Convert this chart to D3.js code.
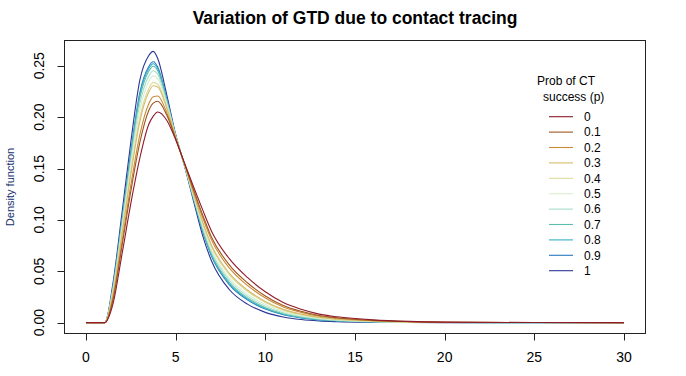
<!DOCTYPE html>
<html>
<head>
<meta charset="utf-8">
<script src="https://cdnjs.cloudflare.com/ajax/libs/d3/7.8.5/d3.min.js"></script>
<style>
body { margin: 0; background: #fff; }
svg { display: block; font-family: "Liberation Sans", Arial, Helvetica, sans-serif; }
</style>
</head>
<body>
<div class="chart"></div>
<script>
// generation time (days) grid
var gtd_x = [0, 1.05, 1.5, 2, 2.5, 3, 3.5, 3.75, 4, 4.5, 5, 5.5, 6, 6.5, 7, 8, 9, 10, 11, 12, 13, 14, 16, 18, 20, 25, 30];

var ct_prob = ["0", "0.1", "0.2", "0.3", "0.4", "0.5", "0.6", "0.7", "0.8", "0.9", "1"];

var dens_p00 = [0, 0, 0.018, 0.066, 0.116, 0.160, 0.193, 0.201, 0.205, 0.197, 0.178, 0.155, 0.132, 0.110, 0.089, 0.062, 0.044, 0.030, 0.0195, 0.013, 0.0083, 0.0057, 0.0027, 0.0012, 0.0005, 0.0001, 0];
var dens_p01 = [0, 0, 0.022, 0.074, 0.128, 0.1752, 0.2064, 0.2136, 0.2154, 0.202, 0.179, 0.1544, 0.1292, 0.105, 0.0832, 0.056, 0.0388, 0.026, 0.0167, 0.011, 0.0070, 0.0047, 0.0022, 0.0010, 0.0004, 0.0001, 0];
var dens_p02 = [0, 0, 0.024, 0.078, 0.134, 0.1828, 0.2131, 0.2199, 0.2206, 0.2045, 0.1795, 0.1541, 0.1278, 0.1025, 0.0803, 0.053, 0.0362, 0.024, 0.0153, 0.010, 0.0063, 0.0043, 0.0020, 0.0009, 0.0004, 0.0001, 0];
var dens_p03 = [0, 0, 0.0274, 0.0848, 0.1442, 0.1957, 0.2245, 0.2306, 0.2294, 0.2088, 0.1804, 0.1536, 0.1254, 0.0983, 0.0754, 0.0479, 0.0318, 0.0206, 0.0129, 0.0083, 0.0052, 0.0034, 0.0016, 0.0007, 0.0003, 0.0001, 0];
var dens_p04 = [0, 0, 0.0284, 0.0868, 0.1472, 0.1995, 0.2278, 0.2338, 0.2320, 0.2100, 0.1806, 0.1534, 0.1247, 0.097, 0.0739, 0.0464, 0.0305, 0.0196, 0.0122, 0.0078, 0.0048, 0.0032, 0.0015, 0.0006, 0.0002, 0.0001, 0];
var dens_p05 = [0, 0, 0.0304, 0.0908, 0.1532, 0.2071, 0.2345, 0.2401, 0.2372, 0.2125, 0.1811, 0.1531, 0.1233, 0.0945, 0.071, 0.0434, 0.0279, 0.0176, 0.0108, 0.0068, 0.0041, 0.0027, 0.0012, 0.0005, 0.0002, 0, 0];
var dens_p06 = [0, 0, 0.032, 0.094, 0.158, 0.2132, 0.2399, 0.2451, 0.2414, 0.2145, 0.1815, 0.1529, 0.1222, 0.0925, 0.0687, 0.041, 0.0258, 0.0160, 0.0097, 0.006, 0.0036, 0.0023, 0.0010, 0.0004, 0.0002, 0, 0];
var dens_p07 = [0, 0, 0.0334, 0.0968, 0.1622, 0.2185, 0.2446, 0.2495, 0.2450, 0.2163, 0.1819, 0.1527, 0.1212, 0.0908, 0.0667, 0.0389, 0.024, 0.0146, 0.0087, 0.0053, 0.0031, 0.0020, 0.0009, 0.0003, 0.0001, 0, 0];
var dens_p08 = [0, 0, 0.0342, 0.0984, 0.1646, 0.2216, 0.2473, 0.2520, 0.2471, 0.2173, 0.1821, 0.1526, 0.1207, 0.0898, 0.0655, 0.0377, 0.0229, 0.0138, 0.0082, 0.0049, 0.0029, 0.0018, 0.0008, 0.0003, 0.0001, 0, 0];
var dens_p09 = [0, 0, 0.0348, 0.0996, 0.1664, 0.2238, 0.2493, 0.2539, 0.2487, 0.2180, 0.1822, 0.1525, 0.1202, 0.089, 0.0646, 0.0368, 0.0222, 0.0132, 0.0077, 0.0046, 0.0027, 0.0017, 0.0007, 0.0003, 0.0001, 0, 0];
var dens_p10 = [0, 0, 0.038, 0.106, 0.176, 0.236, 0.260, 0.264, 0.257, 0.222, 0.183, 0.152, 0.118, 0.085, 0.060, 0.032, 0.018, 0.010, 0.0055, 0.003, 0.0016, 0.0009, 0.0003, 0.0001, 0, 0, 0];

var ct_colors = ["#8e1b2b", "#a0561e", "#c98a34", "#d6bc6a", "#dcda9e", "#d8efd0",
                 "#a6dec8", "#5ebdae", "#35afc8", "#2a78be", "#2c3596"];

var x_ticks = [0, 5, 10, 15, 20, 25, 30];
var y_ticks = [0, 0.05, 0.10, 0.15, 0.20, 0.25];

function make_plot() {
    var dens = [dens_p00, dens_p01, dens_p02, dens_p03, dens_p04, dens_p05,
                dens_p06, dens_p07, dens_p08, dens_p09, dens_p10];

    var series = ct_prob.map(function(p, i) {
        return {label: p, color: ct_colors[i],
                pts: gtd_x.map(function(x, j) { return [x, dens[i][j]]; })};
    });

    var W = 686, H = 376;
    var box = {left: 64.5, right: 645.5, top: 40.5, bottom: 333.5};

    // R style 4% padding on both axes
    var xmax = d3.max(gtd_x), ymax = d3.max(dens, function(d) { return d3.max(d); });
    var x = d3.scaleLinear().domain([-0.04 * xmax, 1.04 * xmax]).range([box.left, box.right]);
    var y = d3.scaleLinear().domain([-0.04 * ymax, 1.04 * ymax]).range([box.bottom, box.top]);

    var svg = d3.select(".chart").append("svg")
                .attr("width", W)
                .attr("height", H);

    svg.append("rect").attr("width", W).attr("height", H).attr("fill", "#fff");

    var line = d3.line()
                 .x(function(d) { return x(d[0]); })
                 .y(function(d) { return y(d[1]); })
                 .curve(d3.curveMonotoneX);

    // p = 1 drawn first, p = 0 ends on top
    svg.selectAll(".gtd")
       .data(series.slice().reverse())
       .enter()
       .append("path")
       .attr("class", "gtd")
       .attr("fill", "none")
       .attr("stroke", function(d) { return d.color; })
       .attr("stroke-width", 1.1)
       .attr("d", function(d) { return line(d.pts); });

    svg.append("rect")
       .attr("x", box.left).attr("y", box.top)
       .attr("width", box.right - box.left).attr("height", box.bottom - box.top)
       .attr("fill", "none").attr("stroke", "#222").attr("stroke-width", 1);

    // x axis
    var xa = svg.append("g").attr("transform", "translate(0," + box.bottom + ")");
    xa.selectAll("line").data(x_ticks).enter().append("line")
      .attr("x1", function(d) { return Math.round(x(d)) + 0.5; })
      .attr("x2", function(d) { return Math.round(x(d)) + 0.5; })
      .attr("y1", 0).attr("y2", 7)
      .attr("stroke", "#222");
    xa.selectAll("text").data(x_ticks).enter().append("text")
      .attr("x", function(d) { return x(d); })
      .attr("y", 28)
      .attr("text-anchor", "middle")
      .style("font-size", "14px")
      .text(function(d) { return d; });

    // y axis
    var ya = svg.append("g").attr("transform", "translate(" + box.left + ",0)");
    ya.selectAll("line").data(y_ticks).enter().append("line")
      .attr("y1", function(d) { return Math.round(y(d)) + 0.5; })
      .attr("y2", function(d) { return Math.round(y(d)) + 0.5; })
      .attr("x1", 0).attr("x2", -7)
      .attr("stroke", "#222");
    ya.selectAll("text").data(y_ticks).enter().append("text")
      .attr("transform", function(d) { return "translate(-21," + y(d) + ") rotate(-90)"; })
      .attr("text-anchor", "middle")
      .style("font-size", "14px")
      .text(function(d) { return d3.format(".2f")(d); });

    svg.append("text")
       .attr("transform", "translate(14," + ((box.top + box.bottom) / 2) + ") rotate(-90)")
       .attr("text-anchor", "middle")
       .attr("fill", "#14306e")
       .style("font-size", "11px")
       .text("Density function");

    svg.append("text")
       .attr("x", (box.left + box.right) / 2)
       .attr("y", 24)
       .attr("text-anchor", "middle")
       .style("font-size", "17.5px")
       .style("font-weight", "bold")
       .text("Variation of GTD due to contact tracing");

    // legend, no frame
    var lg = svg.append("g");
    lg.append("text").attr("x", 537).attr("y", 85).style("font-size", "12px").text("Prob of CT");
    lg.append("text").attr("x", 543).attr("y", 101).style("font-size", "12px").text("success (p)");

    var items = lg.selectAll(".item")
                  .data(series)
                  .enter()
                  .append("g")
                  .attr("class", "item")
                  .attr("transform", function(d, i) { return "translate(0," + (116.7 + i * 15.4) + ")"; });
    items.append("line")
         .attr("x1", 549).attr("x2", 573)
         .attr("stroke", function(d) { return d.color; })
         .attr("stroke-width", 1.1);
    items.append("text")
         .attr("x", 584).attr("y", 4.3)
         .style("font-size", "12px")
         .text(function(d) { return d.label; });
}

make_plot();
</script>
</body>
</html>
